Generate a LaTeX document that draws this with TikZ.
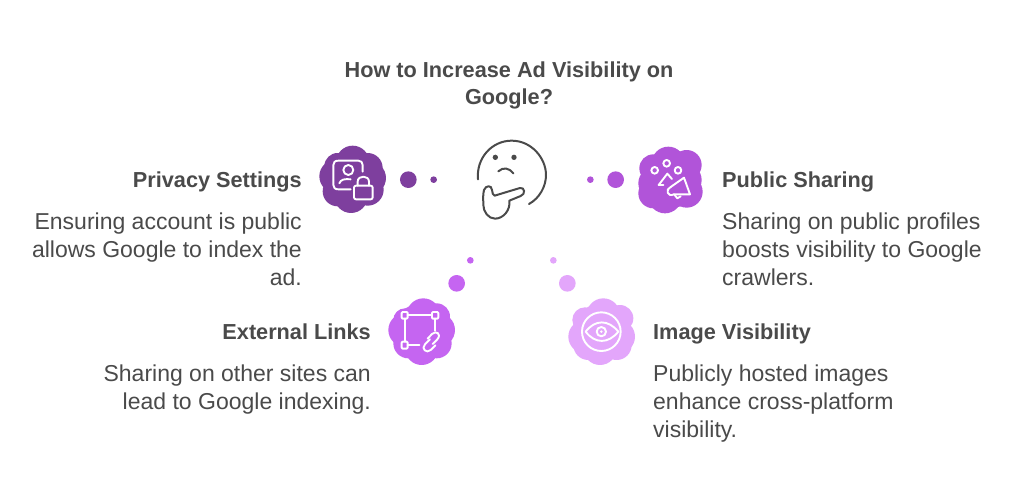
\documentclass[tikz,border=0pt]{standalone}
\usepackage{fontspec}
\setmainfont{Liberation Sans}
\definecolor{ca}{HTML}{7E3F9E}
\definecolor{cb}{HTML}{B154D9}
\definecolor{cc}{HTML}{C565F1}
\definecolor{cd}{HTML}{E3A6FB}
\definecolor{ink}{HTML}{4A4A4A}
\tikzset{
  zoomed/.style={x=0.3333pt,y=-0.3333pt},
  icon/.style={draw=white,line width=1.9pt,line cap=round,line join=round},
  face/.style={draw=ink,line width=2pt,line cap=round,line join=round},
  head/.style={inner sep=0pt,text=ink,font=\fontsize{21.7}{27}\selectfont\bfseries},
  body/.style={inner sep=0pt,text=ink,font=\fontsize{23}{28}\selectfont},
}
\newcommand{\blobshape}[4]{% colour, cx, cy, lobes
  \fill[#1] (#2,#3) circle (85);
  \foreach \dx/\dy/\rr in {#4} {\fill[#1] ({#2+\dx},{#3+\dy}) circle (\rr);}
}
\begin{document}
\begin{tikzpicture}[x=1pt,y=-1pt]
\useasboundingbox (0,0) rectangle (1024,498);
\fill[white] (0,0) rectangle (1024,498);
% title
\node[head,align=center,anchor=north] (title) at (509,62) {How to Increase Ad Visibility on\\Google?};
% thinking face
\begin{scope}[shift={(460,130)},zoomed]
\draw[face] (54,148) .. controls (48,85) and (95,32) .. (155,32) .. controls (215,32) and (258,85) .. (258,135) .. controls (258,170) and (238,205) .. (207,222);
\fill[ink] (106,82) circle (8);
\fill[ink] (162,82) circle (8);
\draw[face] (115,124) .. controls (130,110) and (148,114) .. (160,130);
\draw[face] (104,197) .. controls (120,192) and (160,180) .. (180,174) .. controls (195,171) and (197,193) .. (182,198) .. controls (170,203) and (160,207) .. (148,212) .. controls (152,240) and (130,266) .. (105,266) .. controls (85,266) and (70,245) .. (70,225) .. controls (70,210) and (68,195) .. (72,180) .. controls (78,165) and (95,165) .. (96,180) .. controls (97,190) and (99,195) .. (104,197) -- cycle;
\end{scope}
% privacy
\begin{scope}[shift={(310,130)},zoomed]
\blobshape{ca}{128}{149}{-45/-40/40,0/-52/50,45/-35/45,50/-5/50,45/30/48,-5/50/50,-45/35/45,-50/-10/50}
\fill[ca] (295,149) circle (25);
\fill[ca] (371,149) circle (10);
\draw[icon] (122,178) -- (85,178) .. controls (75,178) and (70,173) .. (70,165) -- (70,105) .. controls (70,97) and (75,92) .. (85,92) -- (145,92) .. controls (153,92) and (158,97) .. (158,105) -- (158,125);
\draw[icon] (115,120) circle (15);
\draw[icon] (88,160) .. controls (92,148) and (105,146) .. (122,148);
\draw[icon,rounded corners=2pt] (132,167) rectangle (188,208);
\draw[icon] (143,167) -- (143,155) .. controls (143,135) and (177,135) .. (177,155) -- (177,167);
\end{scope}
% sharing
\begin{scope}[shift={(580,135)},zoomed]
\blobshape{cb}{270}{135}{50/-45/45,-5/-50/50,-50/-35/42,-45/10/50,-50/40/45,-15/50/50,50/35/48,45/0/50}
\fill[cb] (107,134) circle (25);
\fill[cb] (31,134) circle (10);
\draw[icon] (224,106) circle (10);
\draw[icon] (260,85) circle (10);
\draw[icon] (294,106) circle (10);
\draw[icon] (236,150) -- (262,116) -- (276,132);
\draw[icon] (236,150) -- (250,150);
\draw[icon] (272,156) -- (312,128) -- (330,178) -- (282,178);
\draw[icon] (272,156) .. controls (255,162) and (262,188) .. (282,178);
\draw[icon] (284,180) -- (292,190) -- (302,184);
\end{scope}
% links
\begin{scope}[shift={(380,250)},zoomed]
\blobshape{cc}{125}{245}{5/-50/50,-50/-35/35,-50/-5/50,-40/35/45,0/50/50,45/35/45,50/-5/50,45/-45/40}
\fill[cc] (230,100) circle (25);
\fill[cc] (271,31) circle (10);
\draw[icon,rounded corners=1pt] (65,186) rectangle (83,206);
\draw[icon,rounded corners=1pt] (156,186) rectangle (175,206);
\draw[icon,rounded corners=1pt] (65,275) rectangle (83,296);
\draw[icon] (83,196) -- (156,196);
\draw[icon] (74,206) -- (74,275);
\draw[icon] (165,206) -- (165,242);
\draw[icon] (83,286) -- (118,286);
\draw[icon] (150,268) -- (135,283) .. controls (122,296) and (140,312) .. (152,300) -- (166,286);
\draw[icon] (158,282) -- (172,268) .. controls (186,252) and (168,240) .. (156,252) -- (143,266);
\end{scope}
% image
\begin{scope}[shift={(540,250)},zoomed]
\blobshape{cd}{185}{245}{5/-50/50,-50/-35/38,-50/15/50,-40/40/45,-5/50/50,45/40/45,50/15/50,55/-40/40}
\fill[cd] (82,100) circle (25);
\fill[cd] (40,31) circle (10);
\draw[icon] (184,245) circle (58);
\draw[icon] (137,245) .. controls (165,208) and (205,208) .. (235,245) .. controls (205,282) and (165,282) .. (137,245) -- cycle;
\draw[icon] (184,245) circle (14);
\fill[white] (184,245) circle (4);
\end{scope}
% texts
\node[head,anchor=base east] (h1) at (302,187) {Privacy Settings};
\node[body,align=right,anchor=north east] (b1) at (302,213) {Ensuring account is public\\allows Google to index the\\ad.};
\node[head,anchor=base west] (h2) at (722,187) {Public Sharing};
\node[body,align=left,anchor=north west] (b2) at (722,213) {Sharing on public profiles\\boosts visibility to Google\\crawlers.};
\node[head,anchor=base east] (h3) at (371,339) {External Links};
\node[body,align=right,anchor=north east] (b3) at (371,365) {Sharing on other sites can\\lead to Google indexing.};
\node[head,anchor=base west] (h4) at (653,339) {Image Visibility};
\node[body,align=left,anchor=north west] (b4) at (653,365) {Publicly hosted images\\enhance cross-platform\\visibility.};
\end{tikzpicture}
\end{document}
